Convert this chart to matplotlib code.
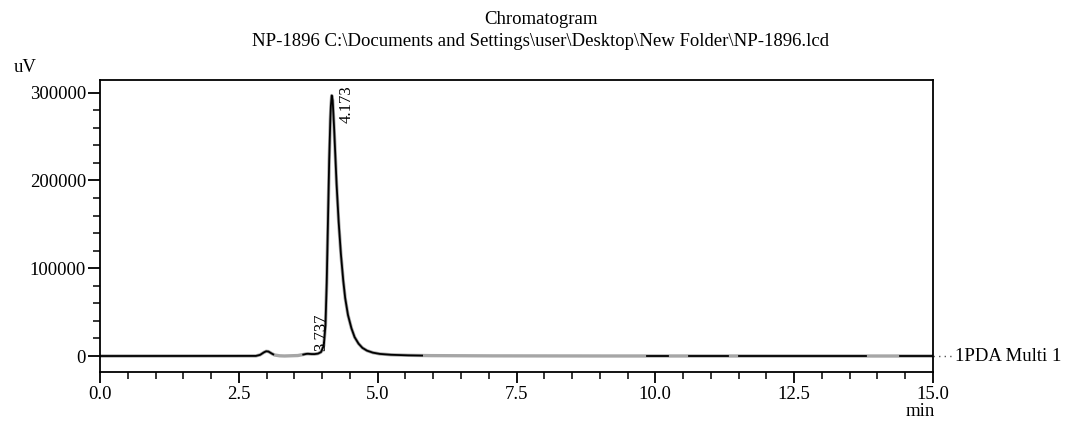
import numpy as np
import matplotlib
matplotlib.use("Agg")
import matplotlib.pyplot as plt
from matplotlib.ticker import MultipleLocator, FixedLocator

plt.rcParams['font.family'] = ['Liberation Serif', 'DejaVu Serif']

# Chromatogram signal (time in min, intensity in uV)
time_min = [0.0, 2.80, 2.88, 2.94, 2.99, 3.03, 3.08, 3.14, 3.22, 3.30, 3.55, 3.65,
            3.70, 3.737, 3.78, 3.85, 3.92, 3.98, 4.03, 4.06, 4.08, 4.10, 4.12,
            4.14, 4.155, 4.173, 4.19, 4.21, 4.23, 4.26, 4.29, 4.33, 4.37, 4.41,
            4.46, 4.52, 4.58, 4.65, 4.72, 4.80, 4.90, 5.02, 5.20, 5.45, 5.80,
            6.50, 7.50, 9.00, 15.0]
signal_uv = [0, 0, 1200, 3800, 5400, 5200, 3200, 1200, 300, 0, 400, 1500,
             2300, 2600, 2300, 2100, 2600, 4500, 12000, 35000, 75000, 140000, 205000,
             255000, 283000, 297000, 291000, 268000, 238000, 196000, 160000, 122000, 92000, 68000,
             48000, 33000, 22000, 14500, 9500, 6300, 4000, 2500, 1500, 900, 500,
             250, 120, 50, 0]

# Sections of the trace that are drawn in black (the rest is grey)
black_sections = [(0.0, 3.12), (3.66, 5.80), (9.85, 10.22), (10.60, 11.30),
                  (11.50, 13.80), (14.40, 15.0)]

peak_times = [3.737, 4.173]
peak_heights = [2600, 297000]
peak_labels = ["3.737", "4.173"]

title_lines = ["Chromatogram",
               "NP-1896 C:\\Documents and Settings\\user\\Desktop\\New Folder\\NP-1896.lcd"]
channel_label = "1PDA Multi 1"

FS = 13.5
W, H = 1067, 422
fig = plt.figure(figsize=(W / 100, H / 100), dpi=100)
ax = fig.add_axes([100 / W, 1 - 372 / H, 833 / W, 292 / H])

t = np.array(time_min)
s = np.array(signal_uv, dtype=float)

# dense resampling for smooth drawing (piecewise linear through the read points)
td = np.linspace(0, 15, 6001)
sd = np.interp(td, t, s)

ax.plot(td, sd, color='#a6a6a6', lw=2.4, solid_capstyle='butt', zorder=2)
for a, b in black_sections:
    m = (td >= a) & (td <= b)
    ax.plot(td[m], sd[m], color='black', lw=1.3, zorder=3)

ax.set_xlim(0, 15)
ax.set_ylim(-18200, 314300)

ax.xaxis.set_major_locator(MultipleLocator(2.5))
ax.xaxis.set_minor_locator(MultipleLocator(0.5))
ax.yaxis.set_major_locator(FixedLocator([0, 100000, 200000, 300000]))
ax.yaxis.set_minor_locator(FixedLocator([v for v in range(0, 300001, 20000)]))
ax.xaxis.set_major_formatter(matplotlib.ticker.FormatStrFormatter('%.1f'))
ax.yaxis.set_major_formatter(matplotlib.ticker.FormatStrFormatter('%d'))

ax.tick_params(axis='x', which='major', direction='out', length=8, width=1.3,
               labelsize=FS, pad=2)
ax.tick_params(axis='x', which='minor', direction='out', length=5, width=1.1)
ax.tick_params(axis='y', which='major', direction='out', length=9, width=1.3,
               labelsize=FS, pad=1)
ax.tick_params(axis='y', which='minor', direction='out', length=5, width=1.1)
for sp in ax.spines.values():
    sp.set_linewidth(1.3)

# peak retention-time labels
for pt, ph, lab in zip(peak_times, peak_heights, peak_labels):
    if ph > 200000:
        ax.annotate(lab, (pt, ph), xytext=(7, 10), textcoords='offset pixels',
                    rotation=90, ha='left', va='top', fontsize=12)
    else:
        ax.annotate(lab, (pt, ph), xytext=(6, 3), textcoords='offset pixels',
                    rotation=90, ha='left', va='bottom', fontsize=12)

# channel label with dotted leader
ax.plot([15.0, 15.38], [0, 0], color='#555555', lw=1.0, ls=(0, (1, 3)), clip_on=False)
ax.annotate(channel_label, (15.0, 0), xytext=(22, 0), textcoords='offset pixels',
            ha='left', va='center', fontsize=FS, annotation_clip=False)

fig.text(541 / W, 1 - 20 / H, title_lines[0], ha='center', va='center', fontsize=FS)
fig.text(541 / W, 1 - 42 / H, title_lines[1], ha='center', va='center', fontsize=FS)
fig.text(14 / W, 1 - 68 / H, "uV", ha='left', va='center', fontsize=FS)
fig.text(920 / W, 1 - 411 / H, "min", ha='center', va='center', fontsize=FS)

fig.savefig("out.png", dpi=100)
